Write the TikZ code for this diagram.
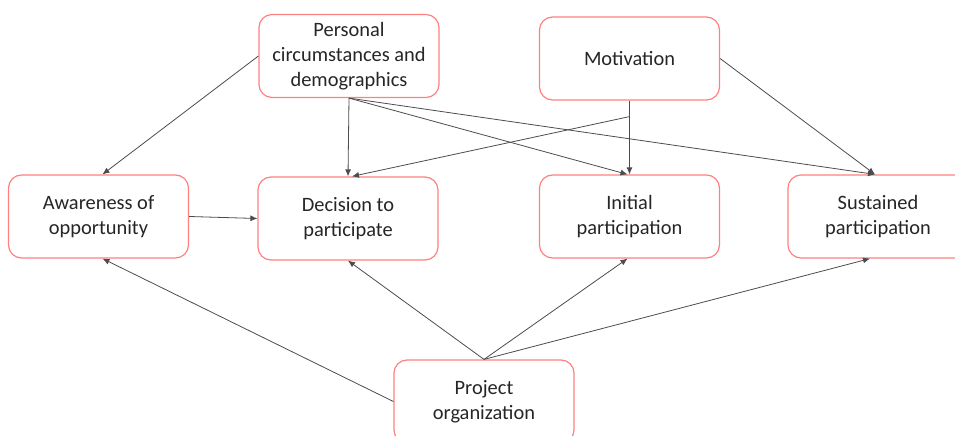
\documentclass[tikz,border=0pt]{standalone}
\usepackage{fontspec}
\setmainfont{Carlito}
\usetikzlibrary{arrows.meta,calc}
\begin{document}
\begin{tikzpicture}[x=1bp,y=-1bp,
  box/.style={draw=red!50!white, line width=1.2bp, rounded corners=13bp, fill=white,
    minimum width=180bp, minimum height=83bp, align=center, inner sep=0pt,
    text=black!85, font=\fontsize{20.5}{25}\selectfont},
  link/.style={draw=black!70, line width=0.8bp, -{Latex[length=7bp,width=6bp]}}]
\useasboundingbox (0,0) rectangle (955,436);
\clip (0,0) rectangle (955,436);
% top row
\node[box] (pers) at (349,56) {Personal\\circumstances and\\demographics};
\node[box] (motiv) at (629.5,58.5) {Motivation};
% middle row
\node[box] (aware) at (98.5,216.5) {Awareness of\\opportunity};
\node[box] (decide) at (348,218.5) {Decision to\\participate};
\node[box] (init) at (629.5,216.5) {Initial\\participation};
\node[box] (sust) at (878,216.5) {Sustained\\participation};
% bottom
\node[box] (proj) at (484,401.5) {Project\\organization};
\coordinate (branch) at ($(motiv.south)+(0,16)$);
% influences from personal circumstances
\draw[link] (pers.west) -- ([xshift=4bp]aware.north);
\draw[link] (pers.south) -- (decide.north);
\draw[link] (pers.south) -- ([xshift=-2bp]init.north);
\draw[link] (pers.south) -- ([xshift=-3bp]sust.north);
% influences from motivation
\draw[link] (motiv.south) -- (init.north);
\draw[link] (branch) -- ([xshift=4bp]decide.north);
\draw[link] (motiv.east) -- ([xshift=-3bp]sust.north);
% process chain
\draw[link] (aware.east) -- (decide.west);
% influences from project organization
\draw[link] (proj.west) -- ([xshift=4bp]aware.south);
\draw[link] (proj.north) -- (decide.south);
\draw[link] (proj.north) -- ([xshift=-2bp]init.south);
\draw[link] (proj.north) -- ([xshift=-8bp]sust.south);
\end{tikzpicture}
\end{document}
